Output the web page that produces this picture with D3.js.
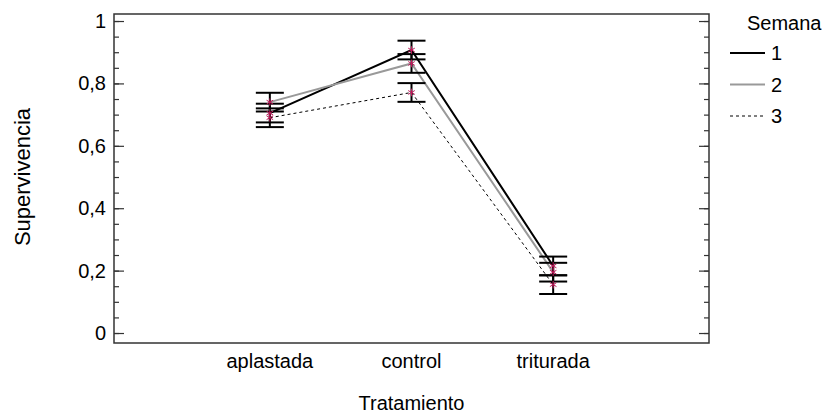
<!DOCTYPE html>
<html>
<head>
<meta charset="utf-8">
<script src="https://cdn.jsdelivr.net/npm/d3@7"></script>
<style>
  body { margin: 0; background: #fff; }
  svg text { font-family: "Liberation Sans", Arial, sans-serif; fill: #000; }
</style>
</head>
<body>
<svg id="chart" width="827" height="415"></svg>
<script>
// values
const categories = ["aplastada", "control", "triturada"]
const semanas = ["1", "2", "3"]
const semana1 = [0.705, 0.907, 0.215]
const semana2 = [0.740, 0.864, 0.195]
const semana3 = [0.690, 0.771, 0.155]
// half width of the intervals
const err1 = [0.03, 0.03, 0.03]
const err2 = [0.03, 0.03, 0.03]
const err3 = [0.03, 0.03, 0.03]
const yTicks = [0, 0.2, 0.4, 0.6, 0.8, 1]
const yTickLabels = ["0", "0,2", "0,4", "0,6", "0,8", "1"]
const yMinorTicks = d3.range(0, 1.001, 0.05)

const series = [
  { name: semanas[0], values: semana1, err: err1, color: "#000", width: 2, dash: null },
  { name: semanas[1], values: semana2, err: err2, color: "#999", width: 2, dash: null },
  { name: semanas[2], values: semana3, err: err3, color: "#000", width: 1, dash: "3,3" }
]

const LEFT = 114, RIGHT = 709, TOP = 14, BOTTOM = 343
const FONT = 20

const svg = d3.select('#chart')

const x = d3.scalePoint().domain(categories).range([LEFT, RIGHT]).padding(1.1)
const y = d3.scaleLinear().domain([-0.032, 1.0225]).range([BOTTOM, TOP])

// minor + major ticks, left and right, pointing inward
svg.append('g').attr('transform', `translate(${LEFT},0)`)
  .call(d3.axisLeft(y).tickValues(yMinorTicks).tickSize(-5).tickFormat(''))
svg.append('g').attr('transform', `translate(${RIGHT},0)`)
  .call(d3.axisRight(y).tickValues(yMinorTicks).tickSize(-5).tickFormat(''))
svg.append('g').attr('transform', `translate(${LEFT},0)`)
  .call(d3.axisLeft(y).tickValues(yTicks).tickSize(-10).tickPadding(8)
    .tickFormat((d, i) => yTickLabels[i]))
svg.append('g').attr('transform', `translate(${RIGHT},0)`)
  .call(d3.axisRight(y).tickValues(yTicks).tickSize(-10).tickFormat(''))

svg.selectAll('.domain').remove()
svg.selectAll('.tick line').attr('stroke', '#333').attr('stroke-width', 1.2)
svg.selectAll('.tick text').attr('font-size', FONT)

// frame
svg.append('rect')
  .attr('x', LEFT).attr('y', TOP)
  .attr('width', RIGHT - LEFT).attr('height', BOTTOM - TOP)
  .attr('fill', 'none').attr('stroke', '#333').attr('stroke-width', 1.5)

// x tick labels
svg.append('g').selectAll('text').data(categories).join('text')
  .attr('x', d => x(d)).attr('y', 368)
  .attr('text-anchor', 'middle').attr('font-size', FONT)
  .text(d => d)

// axis titles
svg.append('text').attr('x', x('control')).attr('y', 410)
  .attr('text-anchor', 'middle').attr('font-size', FONT).text('Tratamiento')
svg.append('text')
  .attr('transform', `translate(30, ${y(0.5)}) rotate(-90)`)
  .attr('text-anchor', 'middle').attr('font-size', 22).text('Supervivencia')

// lines
const line = d3.line().x((d, i) => x(categories[i])).y(d => y(d))
series.forEach(s => {
  svg.append('path')
    .datum(s.values)
    .attr('fill', 'none')
    .attr('stroke', s.color)
    .attr('stroke-width', s.width)
    .attr('stroke-dasharray', s.dash)
    .attr('d', line)
})

// intervals
const CAP = 14
series.forEach(s => {
  const g = svg.append('g').attr('stroke', '#000').attr('stroke-width', 2)
  s.values.forEach((v, i) => {
    const cx = x(categories[i])
    const lo = y(v - s.err[i]), hi = y(v + s.err[i])
    g.append('line').attr('x1', cx).attr('x2', cx).attr('y1', lo).attr('y2', hi)
    g.append('line').attr('x1', cx - CAP).attr('x2', cx + CAP).attr('y1', lo).attr('y2', lo)
    g.append('line').attr('x1', cx - CAP).attr('x2', cx + CAP).attr('y1', hi).attr('y2', hi)
  })
})

// markers
const star = d3.symbol().type(d3.symbolAsterisk || d3.symbolCross).size(40)
series.forEach(s => {
  svg.append('g').selectAll('path').data(s.values).join('path')
    .attr('transform', (d, i) => `translate(${x(categories[i])},${y(d)})`)
    .attr('d', star)
    .attr('fill', 'none')
    .attr('stroke', '#c0185a')
    .attr('stroke-width', 1)
})

// legend
const legend = svg.append('g')
legend.append('text').attr('x', 747).attr('y', 30).attr('font-size', FONT).text('Semana')
series.forEach((s, i) => {
  const ly = 53 + i * 31.5
  legend.append('line')
    .attr('x1', 730).attr('x2', 765).attr('y1', ly).attr('y2', ly)
    .attr('stroke', s.color).attr('stroke-width', s.width)
    .attr('stroke-dasharray', s.dash)
  legend.append('text').attr('x', 771).attr('y', ly + 7)
    .attr('font-size', FONT).text(s.name)
})
</script>
</body>
</html>
